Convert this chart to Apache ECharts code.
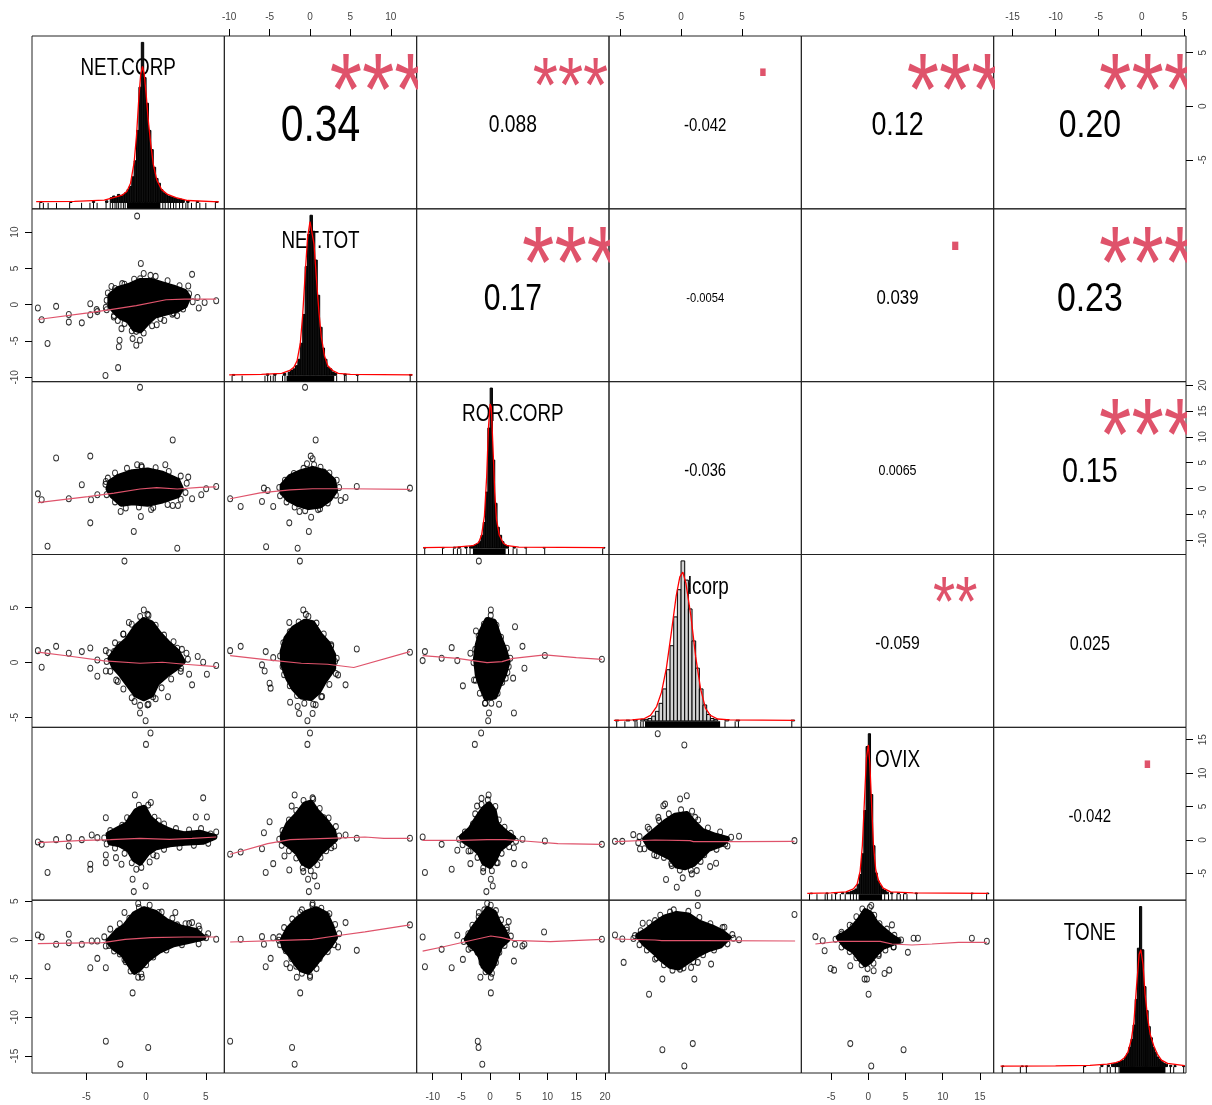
<!DOCTYPE html>
<html><head><meta charset="utf-8">
<script src="https://cdn.jsdelivr.net/npm/echarts@6/dist/echarts.min.js"></script>
<style>html,body{margin:0;padding:0;background:#fff}#c{width:1212px;height:1105px}</style>
</head><body><div id="c"></div>
<script>
// ---------------- DATA ----------------
const varNames = ['NET.CORP','NET.TOT','ROR.CORP','dcorp','OVIX','TONE'];
const axisMin = [-9.55,-10.6,-12.8,-5.9,-9.0,-17.2];
const axisMax = [6.55,13.2,20.7,9.85,16.85,5.15];

const ticksNETCORP = [-5,0,5];
const ticksNETTOT = [-10,-5,0,5,10];
const ticksRORCORP = [-10,-5,0,5,10,15,20];
const ticksDCORP = [-5,0,5];
const ticksOVIX = [-5,0,5,10,15];
const ticksTONE = [-15,-10,-5,0,5];

const corRow = [0,0,0,0,0,1,1,1,1,2,2,2,3,3,4];
const corCol = [1,2,3,4,5,2,3,4,5,3,4,5,4,5,5];
const corText = ['0.34','0.088','-0.042','0.12','0.20','0.17','-0.0054','0.039','0.23','-0.036','0.0065','0.15','-0.059','0.025','-0.042'];
const corStars = ['***','***','.','***','***','***','','.','***','','','***','**','','.'];

// histogram bins [left edge, relative height]
const binWidths = [0.2,0.3,0.4,0.3,0.3,0.25];
const histNETCORP = [[-8.9,0.006],[-6.4,0.006],[-4.5,0.006],[-3.4,0.01],[-3.0,0.03],[-2.8,0.04],[-2.6,0.03],[-2.4,0.05],[-2.2,0.04],[-2.0,0.05],[-1.8,0.06],[-1.6,0.08],[-1.4,0.10],[-1.2,0.16],[-1.0,0.26],[-0.8,0.45],[-0.6,0.72],[-0.4,1.0],[-0.2,0.78],[0.0,0.62],[0.2,0.45],[0.4,0.33],[0.6,0.22],[0.8,0.15],[1.0,0.12],[1.2,0.08],[1.4,0.06],[1.6,0.05],[1.8,0.04],[2.0,0.035],[2.2,0.03],[2.4,0.025],[2.6,0.02],[2.8,0.02],[3.0,0.015],[3.4,0.01],[4.2,0.006],[5.8,0.006]];
const histNETTOT = [[-9.6,0.005],[-5.4,0.008],[-4.5,0.008],[-3.3,0.012],[-2.7,0.02],[-2.4,0.03],[-2.1,0.04],[-1.8,0.06],[-1.5,0.10],[-1.2,0.20],[-0.9,0.38],[-0.6,0.68],[-0.3,0.88],[0.0,1.0],[0.3,0.90],[0.6,0.72],[0.9,0.50],[1.2,0.30],[1.5,0.17],[1.8,0.10],[2.1,0.05],[2.4,0.04],[2.7,0.02],[3.0,0.012],[4.2,0.008],[5.7,0.005],[12.3,0.005]];
const histRORCORP = [[-11.6,0.004],[-8.4,0.004],[-6.4,0.006],[-5.6,0.006],[-4.4,0.008],[-3.6,0.01],[-3.2,0.015],[-2.8,0.02],[-2.4,0.025],[-2.0,0.04],[-1.6,0.08],[-1.2,0.16],[-0.8,0.35],[-0.4,0.75],[0.0,1.0],[0.4,0.55],[0.8,0.28],[1.2,0.13],[1.6,0.08],[2.0,0.04],[2.4,0.02],[2.8,0.015],[4.0,0.006],[6.0,0.004],[9.2,0.004],[19.6,0.004]];
const histDCORP = [[-5.4,0.005],[-4.5,0.005],[-3.9,0.008],[-3.3,0.01],[-3.0,0.01],[-2.7,0.015],[-2.4,0.03],[-2.1,0.06],[-1.8,0.11],[-1.5,0.2],[-1.2,0.32],[-0.9,0.47],[-0.6,0.65],[-0.3,0.82],[0.0,1.0],[0.3,0.88],[0.6,0.70],[0.9,0.5],[1.2,0.33],[1.5,0.2],[1.8,0.1],[2.1,0.04],[2.4,0.015],[2.7,0.01],[3.6,0.008],[4.5,0.005],[9.0,0.005]];
const histOVIX = [[-7.8,0.004],[-5.7,0.005],[-4.5,0.006],[-3.6,0.008],[-3.0,0.01],[-2.7,0.01],[-2.4,0.015],[-2.1,0.02],[-1.8,0.03],[-1.5,0.06],[-1.2,0.12],[-0.9,0.25],[-0.6,0.52],[-0.3,0.92],[0.0,1.0],[0.3,0.62],[0.6,0.3],[0.9,0.13],[1.2,0.08],[1.5,0.05],[1.8,0.03],[2.1,0.02],[2.4,0.01],[3.0,0.008],[3.9,0.006],[4.8,0.006],[6.3,0.005],[13.8,0.004],[15.9,0.004]];
const histTONE = [[-16.25,0.004],[-14.0,0.004],[-13.5,0.004],[-6.75,0.005],[-4.75,0.01],[-4.0,0.01],[-3.5,0.015],[-3.25,0.02],[-3.0,0.02],[-2.75,0.03],[-2.5,0.035],[-2.25,0.04],[-2.0,0.06],[-1.75,0.08],[-1.5,0.12],[-1.25,0.17],[-1.0,0.26],[-0.75,0.42],[-0.5,0.74],[-0.25,1.0],[0.0,0.73],[0.25,0.5],[0.5,0.35],[0.75,0.25],[1.0,0.18],[1.25,0.12],[1.5,0.09],[1.75,0.06],[2.0,0.045],[2.25,0.03],[2.5,0.02],[2.75,0.015],[3.25,0.008],[3.75,0.006],[4.75,0.005]];

// density curves [x, relative height]
const densNETCORP = [[-9.2,0.005],[-6,0.006],[-3.5,0.015],[-2.5,0.035],[-2,0.045],[-1.6,0.07],[-1.3,0.12],[-1.0,0.25],[-0.8,0.42],[-0.6,0.66],[-0.45,0.8],[-0.3,0.85],[-0.15,0.8],[0,0.68],[0.2,0.5],[0.4,0.36],[0.6,0.24],[0.9,0.14],[1.3,0.08],[1.8,0.05],[2.5,0.03],[3.5,0.012],[6.1,0.004]];
const densNETTOT = [[-10,0.003],[-6,0.005],[-3.5,0.012],[-2.5,0.03],[-2,0.05],[-1.6,0.09],[-1.2,0.2],[-0.9,0.38],[-0.6,0.63],[-0.3,0.86],[0,0.96],[0.2,0.96],[0.5,0.82],[0.8,0.6],[1.1,0.4],[1.4,0.24],[1.8,0.12],[2.2,0.06],[2.8,0.03],[3.5,0.012],[5,0.006],[12.7,0.003]];
const densRORCORP = [[-11.7,0.003],[-6,0.006],[-3,0.015],[-2,0.035],[-1.5,0.08],[-1,0.2],[-0.6,0.45],[-0.3,0.75],[0,0.9],[0.2,0.88],[0.5,0.62],[0.8,0.35],[1.1,0.18],[1.6,0.08],[2.3,0.03],[3,0.015],[5,0.006],[19.9,0.003]];
const densDCORP = [[-5.5,0.003],[-4,0.006],[-3,0.015],[-2.5,0.035],[-2,0.09],[-1.6,0.18],[-1.2,0.33],[-0.8,0.55],[-0.4,0.78],[-0.1,0.9],[0.15,0.93],[0.4,0.86],[0.8,0.66],[1.2,0.4],[1.6,0.2],[2,0.08],[2.4,0.035],[3,0.012],[4,0.006],[9.3,0.003]];
const densOVIX = [[-8.2,0.003],[-5,0.006],[-3,0.012],[-2,0.03],[-1.5,0.06],[-1.1,0.14],[-0.8,0.3],[-0.5,0.6],[-0.25,0.85],[0,0.93],[0.2,0.82],[0.45,0.55],[0.7,0.3],[1.0,0.15],[1.4,0.08],[2,0.035],[3,0.012],[6,0.005],[16.1,0.003]];
const densTONE = [[-16.4,0.003],[-10,0.004],[-6,0.008],[-4,0.015],[-3,0.025],[-2.5,0.035],[-2,0.055],[-1.6,0.09],[-1.2,0.17],[-0.9,0.28],[-0.6,0.5],[-0.3,0.7],[-0.1,0.73],[0.15,0.64],[0.4,0.45],[0.7,0.3],[1.0,0.2],[1.4,0.13],[1.8,0.08],[2.3,0.04],[3,0.02],[5,0.006]];

// rug values and dense rug bands [lo, hi]
const rugNETCORP = [-8.9,-8.6,-8.2,-7.5,-6.4,-5.4,-4.7,-4.4,-4.1,-3.35,-3.0,-2.8,-2.6,-2.45,-2.3,-2.1,-1.9,-1.75,1.4,1.6,1.85,2.05,2.3,2.5,2.8,3.06,3.33,3.5,3.8,4.2,4.5,5.0,5.8];
const rugBandNETCORP = [-1.6,1.2];
const rugNETTOT = [-9.64,-8.4,-5.57,-5.24,-4.87,-4.55,-4.3,-3.4,-3.1,3.3,4.26,4.47,5.9,12.4];
const rugBandNETTOT = [-2.9,3.0];
const rugRORCORP = [-11.4,-8.3,-6.4,-5.7,-5.1,-4.1,-3.5,3.2,4.0,4.66,6.28,9.5,19.6];
const rugBandRORCORP = [-3.0,2.7];
const rugDCORP = [-5.27,-4.6,-3.77,-3.6,-3.3,-3.1,3.6,4.43,4.7,9.07];
const rugBandDCORP = [-2.95,3.2];
const rugOVIX = [-7.9,-6.9,-5.8,-5.5,-4.9,-4.4,-3.76,-3.1,-2.4,-2.0,-1.6,2.2,2.72,3.18,3.85,4.3,4.74,5.2,6.5,13.9,15.9];
const rugBandOVIX = [-1.3,1.85];
const rugTONE = [-16.2,-14.1,-13.4,-6.75,-4.83,-4.0,-3.65,-3.06,-2.63,3.34,3.72,4.88];
const rugBandTONE = [-2.56,2.76];

// scatter cells: pts_ROW_COL = [x (column variable), y (row variable)]
const pts_1_0 = [[-0.75,12.2],[-0.44,5.67],[3.85,4.18],[3.53,2.58],[0.37,4.04],[-1.81,2.82],[-0.5,3.58],[-9.06,-0.45],[-8.74,-2.08],[-7.53,-0.23],[-6.47,-1.36],[-6.47,-2.4],[-5.38,-2.5],[-4.67,0.14],[-4.67,-1.4],[-4.14,-0.68],[-3.37,-0.37],[-8.25,-5.35],[-3.4,-9.76],[-2.34,-8.67],[-2.28,-5.8],[-2.22,-4.9],[-2.06,-3.3],[-1.13,-4.67],[-0.82,-5.58],[-0.51,-4.9],[-0.82,-3.67],[0.89,-2.76],[1.52,-2.18],[2.6,-1.5],[2.3,-1.13],[3.2,1.59],[4.3,0.99],[4.41,-0.45],[4.9,0.31],[5.87,0.54],[-2.6,2.22],[-2.68,-1.5],[-2.37,-2.18],[-4.08,-0.95],
  [-3.3,0.6],[-3.2,1.6],[-2.9,2.5],[-2.0,2.9],[-1.0,3.5],[-0.2,4.3],[0.8,3.9],[1.8,3.3],[2.8,2.6],[3.6,1.5],[3.9,0.4],[3.1,-0.6],[2.2,-1.3],[1.2,-1.9],[0.5,-2.9],[-0.2,-3.9],[-1.2,-3.6],[-1.8,-2.6],[-2.7,-1.7],[-3.3,-0.7]];
const core_1_0 = [[-2.99,1.22],[-2.37,2.13],[-1.44,2.58],[-0.51,3.27],[0.43,3.27],[1.36,2.81],[2.29,2.36],[3.23,1.77],[3.53,1.0],[3.23,-0.14],[2.61,-0.68],[1.98,-0.95],[0.74,-1.5],[0.12,-2.4],[-0.51,-3.54],[-0.97,-3.31],[-1.44,-2.18],[-2.06,-1.72],[-2.52,-1.04],[-2.99,-0.14]];
const smooth_1_0 = [[-9.06,-2.04],[-4.86,-1.13],[-2.99,-0.68],[-0.82,-0.14],[1.67,0.68],[3.23,0.77],[5.87,0.77]];

const pts_2_0 = [[-0.51,19.6],[2.23,9.38],[-7.53,5.89],[-4.67,6.27],[-5.38,0.71],[-9.06,-1.04],[-8.74,-2.2],[-6.47,-2.0],[-4.67,-6.67],[-8.25,-11.2],[2.61,-11.6],[-1.03,-8.35],[-0.44,-5.44],[-4.08,-1.22],[-4.61,-2.2],[-3.37,1.36],[-2.13,-4.47],[0.42,-4.08],[2.23,-3.3],[2.67,-3.3],[3.53,2.2],[3.85,-2.0],[4.62,-1.22],[5.03,-0.06],[5.87,0.39],[1.61,4.6],[-0.75,4.6],[-2.37,1.88],[-0.35,4.14],
  [-3.4,0.8],[-3.2,2.0],[-2.6,3.0],[-1.6,3.9],[-0.4,4.4],[0.8,4.0],[1.9,3.3],[2.9,2.4],[3.4,1.0],[3.3,-0.8],[2.9,-2.1],[1.8,-3.1],[0.6,-3.7],[-0.6,-3.6],[-1.7,-3.8],[-2.6,-2.6],[-3.3,-1.2]];
const core_2_0 = [[-2.99,1.23],[-2.37,2.2],[-1.13,3.17],[0.12,3.5],[1.36,2.85],[2.61,1.55],[2.92,-0.06],[2.61,-1.36],[1.36,-2.33],[0.12,-2.97],[-1.13,-2.66],[-2.06,-2.97],[-2.83,-1.36],[-3.15,-0.06]];
const smooth_2_0 = [[-9.06,-2.75],[-4.86,-1.6],[-2.68,-0.9],[-0.51,-0.1],[0.89,0.15],[2.61,-0.1],[4.5,0.2],[5.87,0.3]];

const pts_2_1 = [[-0.61,19.6],[0.7,9.38],[0.09,6.27],[-9.88,-2.0],[-8.58,-3.5],[-5.94,-2.52],[-5.7,0.06],[-4.55,-3.5],[-2.56,-6.67],[-5.43,-11.3],[-1.53,-11.6],[-0.14,-8.35],[0.14,-5.57],[4.4,-1.75],[3.8,-2.33],[5.79,0.39],[12.37,0.06],[1.71,3.17],[2.17,1.88],[-1.3,-4.47],[1.24,-3.94],[0.32,5.77],[-0.37,4.8],[-3.39,-0.72],[-5.24,-0.39],
  [-3.8,0.2],[-3.1,1.6],[-2.0,2.9],[-0.8,3.9],[0.5,4.6],[1.3,4.1],[2.4,3.0],[3.3,1.6],[3.6,0.2],[3.2,-1.3],[2.2,-2.8],[1.0,-4.1],[-0.6,-4.3],[-1.9,-3.6],[-2.9,-2.6],[-3.7,-1.4]];
const core_2_1 = [[-3.39,0.58],[-2.46,2.2],[-1.07,3.17],[0.32,3.82],[1.71,3.17],[2.87,1.55],[3.1,-0.39],[2.41,-2.0],[1.24,-3.3],[-0.14,-3.62],[-1.53,-2.97],[-2.7,-2.0],[-3.39,-0.72]];
const smooth_2_1 = [[-9.88,-2.0],[-6.17,-0.84],[-2.46,-0.26],[0.32,-0.06],[4.5,-0.06],[12.37,-0.19]];

const pts_3_0 = [[-1.81,9.25],[-0.19,4.79],[0.12,4.39],[-1.44,3.66],[-1.91,2.58],[-9.06,1.09],[-8.74,-0.42],[-8.25,0.91],[-7.53,1.48],[-6.47,0.85],[-5.38,1.0],[-4.67,1.33],[-4.67,-0.52],[-4.08,0.24],[-4.08,-1.24],[-3.37,1.09],[-3.37,-0.76],[-0.97,-3.55],[-0.51,-4.6],[-0.04,-5.3],[0.12,-3.85],[0.58,-3.12],[1.83,-3.12],[2.92,-0.52],[3.6,-1.06],[3.85,-2.03],[4.32,0.55],[4.78,0.03],[5.09,-1.06],[5.87,-0.27],[2.61,1.3],[-2.37,-1.73],[-2.22,1.61],[-2.68,1.0],[3.38,0.85],
  [-3.3,0.1],[-3.1,0.9],[-2.6,1.8],[-1.9,2.6],[-1.2,3.5],[-0.5,4.2],[0.2,4.3],[0.8,3.4],[1.5,2.5],[2.3,1.9],[3.0,1.2],[3.5,0.3],[2.9,-0.8],[2.1,-1.5],[1.3,-2.3],[0.8,-3.3],[0.2,-3.8],[-0.5,-3.9],[-1.2,-3.2],[-1.9,-2.4],[-2.5,-1.6],[-3.0,-0.8]];
const core_3_0 = [[-2.99,0.39],[-2.37,1.3],[-1.59,2.06],[-0.82,3.27],[-0.19,3.88],[0.43,3.58],[1.05,2.67],[1.83,1.76],[2.61,1.0],[3.08,0.09],[2.45,-0.52],[1.68,-1.12],[0.89,-1.88],[0.43,-2.94],[-0.19,-3.24],[-0.82,-2.94],[-1.44,-2.03],[-2.06,-1.12],[-2.68,-0.36]];
const smooth_3_0 = [[-9.06,0.95],[-6.5,0.6],[-3.5,0.15],[-0.51,-0.06],[1.36,0.03],[3.23,-0.15],[5.87,-0.36]];

const pts_3_1 = [[-1.25,9.25],[-0.83,4.79],[-0.51,4.39],[-2.56,3.66],[-9.88,1.09],[-8.58,1.48],[-5.48,1.0],[-5.94,-0.21],[-5.61,-0.76],[-5.0,-1.88],[-4.87,-2.33],[-4.55,0.45],[-3.39,-0.36],[-2.46,-3.61],[-1.35,-4.64],[-0.32,-5.3],[0.32,-4.64],[0.7,-3.85],[1.39,-3.12],[4.4,-2.03],[5.79,1.24],[12.37,0.94],[3.47,-1.12],[3.1,0.09],[2.63,1.61],[2.17,1.0],[-1.53,-4.0],
  [-3.7,0.6],[-3.3,1.8],[-2.5,2.8],[-1.4,3.7],[-0.2,4.2],[0.8,3.6],[1.7,2.6],[2.6,1.5],[3.3,0.4],[3.2,-1.0],[2.4,-2.0],[1.5,-3.1],[0.4,-3.8],[-0.7,-3.7],[-1.6,-3.0],[-2.5,-2.1],[-3.2,-1.1]];
const core_3_1 = [[-3.39,1.0],[-2.92,2.21],[-2.0,3.12],[-0.61,3.73],[0.32,3.58],[1.24,2.52],[2.17,1.76],[2.87,0.7],[2.87,-0.52],[1.71,-1.73],[1.02,-2.64],[0.09,-3.24],[-1.07,-3.09],[-2.0,-2.33],[-2.7,-1.42],[-3.3,-0.21]];
const smooth_3_1 = [[-9.88,0.64],[-5.24,0.24],[-1.07,-0.06],[2.17,-0.15],[5.42,-0.45],[12.37,1.0]];

const pts_3_2 = [[-1.97,9.25],[0.12,4.79],[-2.47,2.88],[4.33,3.27],[5.63,1.48],[-6.7,1.36],[-11.36,1.0],[-11.76,0.18],[-8.45,0.39],[-5.72,0.18],[-4.75,-2.12],[-2.8,-1.58],[-0.85,-3.7],[-0.21,-4.6],[-0.35,-5.3],[1.55,-3.79],[4.14,-4.6],[4.0,-1.42],[5.97,-0.52],[3.23,-0.36],[9.53,0.64],[19.46,0.3],[2.71,-1.42],[2.07,1.0],[-3.44,0.85],
  [-2.9,0.0],[-2.6,1.2],[-2.0,2.4],[-1.1,3.5],[0.1,4.3],[1.1,3.4],[1.9,2.3],[2.9,1.3],[3.5,0.4],[3.0,-0.9],[2.1,-1.8],[1.3,-2.8],[0.2,-3.7],[-0.9,-3.7],[-1.8,-2.8],[-2.5,-1.6]];
const core_3_2 = [[-2.47,0.39],[-2.16,1.61],[-1.5,2.82],[-0.52,3.88],[0.64,3.73],[1.41,2.52],[2.38,1.3],[3.04,0.09],[2.38,-1.12],[1.55,-2.03],[0.77,-3.09],[-0.66,-3.24],[-1.5,-2.18],[-2.16,-1.12]];
const smooth_3_2 = [[-11.76,0.64],[-5.72,0.39],[-0.54,0.0],[2.07,0.09],[4.0,0.39],[9.53,0.7],[15.0,0.45],[19.46,0.3]];

const pts_4_0 = [[0.37,16.0],[-0.01,14.3],[-0.94,6.72],[4.78,6.3],[4.16,3.43],[5.09,3.43],[5.87,1.19],[-9.06,-0.3],[-8.74,-0.65],[-8.25,-4.87],[-7.53,0.05],[-6.47,0.35],[-6.47,-0.9],[-5.38,0.05],[-4.67,-3.63],[-4.67,-4.38],[-4.55,0.75],[-4.08,0.35],[-3.37,3.33],[-3.37,-2.24],[-3.37,-3.39],[-2.52,-2.64],[-2.06,-3.63],[-1.13,-5.87],[-1.03,-7.72],[-0.04,-6.87],[-0.82,-4.38],[-0.51,4.58],[0.18,5.22],[-1.59,3.33],[1.05,2.84],[1.98,1.34],[0.89,-2.39],[3.85,0.85],
  [-3.5,0.3],[-3.0,1.4],[-2.0,2.2],[-1.3,3.2],[-0.6,5.2],[0.4,5.6],[0.7,3.4],[1.5,2.4],[2.5,1.7],[3.6,1.5],[4.6,1.7],[5.4,0.9],[5.2,-0.5],[4.0,-0.8],[2.8,-1.1],[1.5,-1.4],[0.6,-2.2],[0.3,-3.3],[-0.4,-4.1],[-1.2,-3.4],[-1.8,-2.0],[-2.6,-1.2],[-3.3,-0.6]];
const core_4_0 = [[-3.15,0.85],[-2.37,1.6],[-1.59,2.34],[-0.82,4.33],[-0.19,4.82],[0.27,3.33],[0.89,2.34],[1.98,1.34],[3.23,0.85],[4.47,1.09],[5.72,0.45],[4.78,-0.25],[3.23,-0.4],[1.98,-0.64],[0.74,-1.15],[0.12,-1.9],[-0.51,-3.39],[-0.97,-2.88],[-1.44,-1.39],[-2.22,-0.64],[-2.99,-0.4]];
const smooth_4_0 = [[-9.06,-0.4],[-5.17,-0.05],[-2.99,0.05],[-0.51,0.25],[1.98,0.1],[3.85,0.25],[5.87,0.45]];

const pts_4_1 = [[0.0,16.0],[-0.32,14.3],[-1.9,6.72],[0.32,6.3],[-2.27,5.07],[-5.0,2.73],[-5.7,1.09],[-9.88,-2.13],[-8.58,-1.79],[-5.94,-1.3],[-5.48,-4.87],[-4.55,-3.54],[-2.56,-4.48],[-3.16,-2.39],[-0.83,-4.73],[-0.24,-5.87],[-0.14,-7.72],[0.88,-6.87],[0.55,-5.37],[1.71,3.33],[2.63,0.85],[4.4,0.75],[5.79,0.25],[12.37,0.25],[2.63,-1.15],[-1.53,1.34],
  [-3.8,0.1],[-3.4,1.4],[-2.6,3.0],[-1.7,4.4],[-0.8,5.9],[0.4,6.1],[1.2,4.7],[2.3,3.3],[3.2,2.0],[3.6,0.6],[3.0,-0.9],[2.0,-1.6],[1.3,-2.6],[0.9,-3.7],[0.1,-4.6],[-0.9,-4.2],[-1.7,-2.7],[-2.6,-1.6],[-3.5,-0.8]];
const core_4_1 = [[-3.39,0.6],[-2.7,2.34],[-1.53,3.84],[-0.61,5.33],[0.09,5.57],[0.78,4.33],[1.94,2.84],[2.87,1.34],[3.1,0.1],[2.17,-0.9],[1.24,-1.9],[0.55,-3.13],[-0.14,-3.88],[-0.83,-3.39],[-1.53,-1.9],[-2.46,-0.9],[-3.3,-0.15]];
const smooth_4_1 = [[-9.88,-2.13],[-5.24,-0.55],[-2.46,0.05],[2.17,0.25],[6.8,0.45],[9.13,0.25],[12.37,0.25]];

const pts_4_2 = [[-1.57,16.0],[-2.67,14.3],[-0.27,6.72],[-1.51,6.22],[-2.28,5.07],[-11.36,-4.87],[-11.76,0.45],[-8.45,-0.65],[-6.7,-4.38],[-5.72,-1.54],[-4.75,0.45],[-3.44,-3.54],[-1.22,-4.73],[-0.66,-7.72],[0.45,-6.87],[0.12,-5.87],[1.1,-3.39],[4.14,-3.54],[5.97,-3.73],[4.14,-1.15],[5.63,0.1],[9.53,-0.15],[19.46,-0.65],[2.71,0.85],[-3.77,-1.64],
  [-5.4,0.1],[-4.4,1.2],[-3.0,2.4],[-2.6,3.9],[-1.5,5.3],[-0.4,6.0],[0.9,5.0],[1.5,3.0],[2.5,1.9],[3.6,1.0],[4.5,-0.2],[3.3,-1.0],[2.0,-2.0],[1.3,-3.4],[0.3,-4.6],[-1.2,-4.2],[-2.2,-2.6],[-3.4,-1.6],[-4.8,-0.7]];
const core_4_2 = [[-4.94,0.45],[-3.44,1.6],[-2.16,3.33],[-1.18,4.58],[-0.21,5.33],[0.64,4.33],[1.1,2.34],[2.71,1.09],[4.0,0.35],[3.04,-0.4],[1.55,-1.39],[0.77,-2.88],[-0.02,-3.88],[-1.04,-3.39],[-1.83,-1.9],[-3.13,-0.9],[-4.42,-0.15]];
const smooth_4_2 = [[-11.76,-0.05],[-5.08,-0.05],[-0.54,0.05],[2.71,0.05],[5.97,-0.15],[11.81,-0.55],[19.46,-0.65]];

const pts_4_3 = [[-1.91,15.9],[0.27,14.2],[0.47,6.62],[-0.08,6.12],[-1.31,5.37],[-1.45,5.12],[-1.86,3.38],[-2.73,1.9],[-5.41,-0.2],[-4.81,-0.2],[-3.91,0.8],[-3.36,-1.34],[4.75,0.55],[9.29,-0.1],[-1.23,-5.92],[-0.35,-7.06],[0.14,-5.67],[1.37,-7.96],[0.88,-5.07],[1.29,-4.58],[2.38,-3.98],[2.87,-3.48],[3.61,-0.6],[1.15,3.38],[-1.99,-2.34],[-0.76,-3.83],[0.39,-3.83],
  [-3.4,0.5],[-2.6,1.6],[-1.8,2.9],[-1.0,3.9],[0.0,4.5],[0.9,4.3],[1.4,3.0],[2.2,1.8],[3.2,1.2],[4.1,0.4],[3.8,-0.9],[2.9,-1.4],[1.9,-2.2],[1.6,-3.2],[0.8,-4.5],[-0.1,-4.5],[-0.8,-3.5],[-1.4,-2.6],[-2.2,-2.2],[-3.0,-1.3],[-3.5,-0.4]];
const core_4_3 = [[-2.95,0.15],[-2.13,1.39],[-1.31,2.64],[-0.49,3.63],[0.47,3.88],[1.01,2.64],[1.7,1.39],[2.79,0.64],[3.75,0.15],[3.34,-0.6],[2.24,-1.34],[1.56,-2.58],[1.01,-3.58],[0.33,-4.07],[-0.35,-3.83],[-0.9,-2.58],[-1.72,-1.84],[-2.54,-1.09]];
const smooth_4_3 = [[-5.41,-0.25],[-2.13,0.0],[0.74,-0.1],[1.01,-0.25],[4.7,-0.25],[9.29,-0.2]];

const pts_5_0 = [[-0.66,4.72],[-1.81,3.55],[2.45,3.55],[-9.06,0.65],[-8.74,0.39],[-8.25,-3.46],[-7.53,-0.56],[-6.47,0.74],[-6.47,-0.35],[-5.38,-0.56],[-4.67,-3.59],[-4.55,-0.13],[-4.08,-0.13],[-4.08,-2.38],[-3.37,-0.78],[-3.37,-3.59],[-1.13,-6.84],[-0.66,-4.81],[-0.35,-4.81],[-3.37,-13.1],[0.18,-13.9],[-2.15,-16.06],[3.85,2.25],[3.6,2.12],[2.61,1.95],[4.47,1.39],[5.87,0.09],[5.03,0.3],[-2.37,1.17],[-2.68,-1.43],[-1.81,-2.51],[1.05,3.55],
  [-3.5,0.4],[-3.0,1.4],[-2.2,2.1],[-1.4,2.8],[-0.6,4.2],[0.3,4.5],[1.3,3.6],[2.2,2.8],[3.3,2.1],[4.4,1.8],[5.2,0.8],[4.4,-0.5],[3.0,-0.6],[1.7,-1.3],[0.6,-2.2],[0.0,-3.2],[-0.4,-4.4],[-1.3,-4.0],[-1.7,-2.8],[-2.2,-1.8],[-3.1,-0.7]];
const core_5_0 = [[-3.15,-0.13],[-2.52,0.95],[-1.75,1.82],[-0.97,3.34],[-0.19,3.99],[0.74,3.55],[1.68,2.47],[2.92,1.6],[4.16,1.17],[4.78,0.3],[3.53,-0.13],[2.29,-0.56],[1.05,-1.43],[0.12,-2.51],[-0.51,-3.59],[-0.97,-4.11],[-1.37,-3.16],[-1.91,-1.86],[-2.68,-1.0]];
const smooth_5_0 = [[-9.06,-0.48],[-3.62,-0.35],[-1.75,0.09],[0.43,0.3],[3.23,0.39],[5.87,0.39]];

const pts_5_1 = [[0.32,4.72],[-1.21,3.55],[-9.88,-13.1],[-2.22,-13.9],[-1.9,-16.06],[-1.21,-6.84],[-1.63,-4.81],[0.0,-4.81],[-8.58,0.09],[-5.94,0.43],[-5.7,-0.56],[-5.48,-3.46],[-4.87,-2.38],[-4.55,0.3],[-2.92,-3.08],[-2.46,-3.59],[2.17,3.12],[4.4,2.25],[3.47,-0.91],[5.79,-1.34],[12.37,1.95],[-3.85,-0.04],[2.63,0.74],
  [-3.8,0.4],[-3.2,1.6],[-2.2,2.7],[-1.0,3.9],[0.3,4.5],[1.4,4.1],[2.4,3.4],[3.1,2.0],[3.6,0.8],[3.0,-0.6],[2.2,-1.5],[1.2,-2.4],[0.8,-3.7],[0.0,-4.6],[-1.0,-4.3],[-1.7,-3.4],[-2.3,-2.4],[-3.0,-1.4],[-3.7,-0.6]];
const core_5_1 = [[-3.39,-0.04],[-2.7,1.39],[-1.53,2.69],[-0.37,3.55],[0.78,3.99],[1.94,3.34],[2.63,1.82],[3.1,0.3],[2.41,-0.78],[1.48,-1.86],[0.55,-3.16],[-0.24,-4.11],[-1.07,-3.81],[-1.76,-2.95],[-2.46,-1.86],[-3.16,-1.0]];
const smooth_5_1 = [[-9.88,-0.26],[-3.39,-0.04],[0.32,0.09],[3.1,0.52],[6.8,1.04],[12.37,1.95]];

const pts_5_2 = [[-0.52,4.72],[-1.97,3.55],[3.23,2.38],[9.39,1.04],[19.46,0.09],[-11.76,0.39],[-11.36,-3.46],[-8.45,-1.21],[-6.7,-3.59],[-5.72,0.61],[-4.75,-2.51],[-3.77,-1.21],[-2.16,-13.1],[-2.02,-13.9],[-1.37,-16.06],[0.12,-6.84],[-1.7,-4.81],[0.12,-4.81],[4.14,-2.73],[4.33,-0.56],[5.63,-0.78],[5.97,-0.56],[2.9,1.26],[2.38,0.3],
  [-4.6,-0.2],[-3.8,0.8],[-3.1,1.9],[-2.0,3.0],[-1.0,3.9],[0.1,4.5],[1.0,3.8],[1.9,2.6],[2.9,1.6],[3.6,0.5],[2.5,-0.7],[1.6,-1.6],[1.0,-2.9],[0.3,-4.3],[-0.8,-4.1],[-1.5,-2.9],[-2.2,-1.6],[-3.3,-1.0]];
const core_5_2 = [[-4.1,0.09],[-2.8,1.6],[-1.5,2.9],[-0.4,3.99],[0.64,3.55],[1.41,2.25],[2.38,1.17],[3.04,0.09],[1.74,-0.78],[1.1,-2.08],[0.45,-3.38],[-0.21,-4.11],[-1.18,-3.38],[-1.7,-2.08],[-2.47,-1.21],[-3.44,-0.56]];
const smooth_5_2 = [[-11.76,-1.43],[-8.31,-0.91],[-3.77,-0.13],[0.12,0.52],[2.07,0.3],[4.0,-0.04],[10.5,-0.22],[19.46,0.09]];

const pts_5_3 = [[1.37,4.46],[9.29,3.29],[-5.41,0.65],[-4.81,0.13],[-4.7,-2.9],[-3.14,2.17],[-1.53,-5.06],[-2.62,-7.01],[-1.53,-14.2],[0.96,-13.4],[0.27,-16.3],[1.09,-5.06],[1.37,-2.9],[2.46,-3.12],[3.55,1.65],[4.29,0.22],[4.75,0.04],[-0.9,3.6],[-2.13,2.51],[-0.08,-3.77],[-2.13,-2.47],[-3.77,0.56],[0.82,-3.55],
  [-3.9,0.2],[-3.3,1.2],[-2.6,2.2],[-1.7,3.2],[-0.6,3.9],[0.6,3.7],[1.5,2.9],[2.4,2.1],[3.4,1.6],[4.2,0.7],[3.8,-0.5],[2.7,-1.3],[1.8,-1.9],[1.0,-2.8],[0.2,-3.6],[-0.7,-3.9],[-1.4,-3.2],[-2.0,-2.3],[-2.8,-1.3],[-3.4,-0.6]];
const core_5_3 = [[-3.5,0.56],[-2.81,1.21],[-2.13,2.08],[-1.31,2.94],[-0.35,3.38],[0.6,3.16],[1.42,2.29],[2.51,1.65],[3.34,1.0],[3.88,0.35],[3.2,-0.74],[2.24,-1.17],[1.42,-1.82],[0.6,-2.68],[-0.22,-3.55],[-0.9,-3.33],[-1.58,-2.47],[-2.13,-1.6],[-2.95,-0.52]];
const smooth_5_3 = [[-5.41,0.13],[-2.13,0.0],[-1.58,-0.09],[1.97,-0.09],[9.34,-0.13]];

const pts_5_4 = [[0.4,4.46],[3.18,1.95],[-7.11,0.43],[-6.13,-0.09],[-5.87,-1.39],[-5.06,-3.68],[-4.6,-3.9],[-2.42,-3.34],[-2.1,1.78],[-2.42,-13.4],[0.4,-16.3],[4.74,-14.2],[0.04,-7.01],[-0.5,-5.06],[-0.18,-5.06],[0.72,-3.98],[2.18,-4.33],[2.82,-3.9],[5.32,-1.6],[6.09,0.22],[6.67,0.22],[13.92,0.22],[15.93,-0.17],[4.07,-0.09],[3.4,-0.87],[1.38,-1.82],[-3.53,0.78],
  [-4.4,0.1],[-3.6,1.0],[-2.5,1.9],[-1.6,3.0],[-0.8,4.0],[0.2,4.2],[0.8,3.2],[1.5,2.1],[2.5,1.4],[3.5,0.6],[4.4,0.0],[3.4,-0.9],[2.3,-1.3],[1.4,-2.0],[0.7,-3.0],[-0.1,-3.7],[-0.9,-3.2],[-1.6,-2.3],[-2.5,-1.5],[-3.6,-0.9]];
const core_5_4 = [[-3.98,0.35],[-3.09,0.78],[-1.97,1.65],[-1.07,2.73],[-0.4,3.72],[0.27,3.38],[0.94,2.29],[1.84,1.43],[2.95,0.56],[3.98,-0.09],[2.95,-0.52],[1.84,-0.95],[0.94,-1.82],[0.27,-2.68],[-0.4,-3.12],[-1.07,-2.47],[-1.97,-1.39],[-3.09,-0.74]];
const smooth_5_4 = [[-7.11,-0.52],[-3.98,-0.17],[1.61,-0.17],[3.18,-0.52],[5.87,-0.65],[8.55,-0.52],[12.12,-0.3],[15.93,-0.3]];

// ---------------- BUILD ----------------
const tickSets = [ticksNETCORP, ticksNETTOT, ticksRORCORP, ticksDCORP, ticksOVIX, ticksTONE];
const hists = [histNETCORP, histNETTOT, histRORCORP, histDCORP, histOVIX, histTONE];
const denss = [densNETCORP, densNETTOT, densRORCORP, densDCORP, densOVIX, densTONE];
const rugs = [rugNETCORP, rugNETTOT, rugRORCORP, rugDCORP, rugOVIX, rugTONE];
const rugBands = [rugBandNETCORP, rugBandNETTOT, rugBandRORCORP, rugBandDCORP, rugBandOVIX, rugBandTONE];
const lower = {
  '1_0':[pts_1_0,core_1_0,smooth_1_0], '2_0':[pts_2_0,core_2_0,smooth_2_0], '2_1':[pts_2_1,core_2_1,smooth_2_1],
  '3_0':[pts_3_0,core_3_0,smooth_3_0], '3_1':[pts_3_1,core_3_1,smooth_3_1], '3_2':[pts_3_2,core_3_2,smooth_3_2],
  '4_0':[pts_4_0,core_4_0,smooth_4_0], '4_1':[pts_4_1,core_4_1,smooth_4_1], '4_2':[pts_4_2,core_4_2,smooth_4_2], '4_3':[pts_4_3,core_4_3,smooth_4_3],
  '5_0':[pts_5_0,core_5_0,smooth_5_0], '5_1':[pts_5_1,core_5_1,smooth_5_1], '5_2':[pts_5_2,core_5_2,smooth_5_2], '5_3':[pts_5_3,core_5_3,smooth_5_3], '5_4':[pts_5_4,core_5_4,smooth_5_4]
};

const L0 = 32, T0 = 36, R0 = 1186, B0 = 1073;
const CW = (R0 - L0) / 6, CH = (B0 - T0) / 6;
const FONT = '"Liberation Sans", Arial, sans-serif';
const SX = 0.82; // condensed look of the original rendering
const mctx = document.createElement('canvas').getContext('2d');
mctx.font = '100px ' + FONT;
const em = s => mctx.measureText(s).width / 100 * SX;

const grids = [], xAxes = [], yAxes = [], series = [];
const labelStyle = {fontSize: 10, fontFamily: '"Liberation Sans Narrow", ' + FONT, color: '#444'};

function shownAxis(pos, ticks, rotate, margin) {
  return {
    show: true, position: pos,
    axisLine: {show: false, onZero: false},
    axisTick: {show: true, inside: false, length: 7, lineStyle: {color: '#000', width: 1}, customValues: ticks},
    axisLabel: Object.assign({show: true, customValues: ticks, rotate: rotate, margin: margin}, labelStyle),
    splitLine: {show: false}
  };
}

for (let i = 0; i < 6; i++) {
  for (let j = 0; j < 6; j++) {
    const k = i * 6 + j;
    grids.push({left: L0 + j * CW, top: T0 + i * CH, width: CW, height: CH, show: true,
      borderColor: '#222', borderWidth: 1, backgroundColor: 'transparent', containLabel: false, outerBoundsMode: 'none'});
    const diag = i === j;
    let xa = {type: 'value', gridIndex: k, min: axisMin[j], max: axisMax[j], show: false,
      splitLine: {show: false}, axisLine: {show: false, onZero: false}, axisTick: {show: false}, axisLabel: {show: false}};
    let ya = {type: 'value', gridIndex: k, min: diag ? -0.04 : axisMin[i], max: diag ? 1.04 : axisMax[i], show: false,
      splitLine: {show: false}, axisLine: {show: false, onZero: false}, axisTick: {show: false}, axisLabel: {show: false}};
    if (i === 0 && j % 2 === 1) Object.assign(xa, shownAxis('top', tickSets[j], 0, 14));
    if (i === 5 && j % 2 === 0) Object.assign(xa, shownAxis('bottom', tickSets[j], 0, 19));
    if (j === 0 && i % 2 === 1) Object.assign(ya, shownAxis('left', tickSets[i], 90, 12));
    if (j === 5 && i % 2 === 0) Object.assign(ya, shownAxis('right', tickSets[i], 90, 12));
    xAxes.push(xa); yAxes.push(ya);

    if (diag) {
      const bw = binWidths[i];
      series.push({type: 'custom', xAxisIndex: k, yAxisIndex: k, z: 1, silent: true, data: [[0]],
        renderItem: (p, api) => {
          const cs = p.coordSys;
          return {type: 'text', x: cs.x + cs.width / 2, y: cs.y + 33, scaleX: SX,
            style: {text: varNames[i], font: '23px ' + FONT, fill: '#000', align: 'center', verticalAlign: 'middle'}};
        }});
      series.push({type: 'custom', xAxisIndex: k, yAxisIndex: k, z: 3, silent: true, clip: true,
        data: hists[i],
        renderItem: (p, api) => {
          const x0 = api.value(0), h = api.value(1);
          const a = api.coord([x0, 0]), b = api.coord([x0 + bw, h]);
          const w = b[0] - a[0];
          return {type: 'rect', shape: {x: a[0], y: b[1], width: w, height: a[1] - b[1]},
            style: {fill: w < 3 ? '#111' : '#d3d3d3', stroke: '#000', lineWidth: 1}};
        }});
      series.push({type: 'line', xAxisIndex: k, yAxisIndex: k, z: 4, silent: true, data: denss[i],
        showSymbol: false, symbol: 'none', lineStyle: {color: '#ff0000', width: 1.3}, smooth: false});
      series.push({type: 'custom', xAxisIndex: k, yAxisIndex: k, z: 4, silent: true,
        data: rugs[i].map(v => [v]),
        renderItem: (p, api) => {
          const x = api.coord([api.value(0), 0])[0];
          const yb = p.coordSys.y + p.coordSys.height;
          return {type: 'line', shape: {x1: x, y1: yb, x2: x, y2: yb - 6}, style: {stroke: '#000', lineWidth: 1}};
        }});
      series.push({type: 'custom', xAxisIndex: k, yAxisIndex: k, z: 4, silent: true,
        data: [rugBands[i]],
        renderItem: (p, api) => {
          const a = api.coord([api.value(0), 0])[0], b = api.coord([api.value(1), 0])[0];
          const yb = p.coordSys.y + p.coordSys.height;
          return {type: 'rect', shape: {x: a, y: yb - 6, width: b - a, height: 6}, style: {fill: '#000'}};
        }});
    } else if (i > j) {
      const d = lower[i + '_' + j];
      const core = d[1];
      series.push({type: 'custom', xAxisIndex: k, yAxisIndex: k, z: 3, silent: true, clip: true, data: [[0]],
        renderItem: (p, api) => ({type: 'polygon', shape: {points: core.map(q => api.coord(q))},
          style: {fill: '#000', stroke: '#000', lineWidth: 6, lineJoin: 'round'}})});
      series.push({type: 'scatter', xAxisIndex: k, yAxisIndex: k, z: 3, silent: true, data: d[0],
        symbol: 'circle', symbolSize: [5, 6],
        itemStyle: {color: 'rgba(0,0,0,0)', borderColor: '#000', borderWidth: 1}});
      series.push({type: 'line', xAxisIndex: k, yAxisIndex: k, z: 4, silent: true, data: d[2],
        showSymbol: false, symbol: 'none', lineStyle: {color: '#DF536B', width: 1.2}, smooth: false});
    }
  }
}

for (let n = 0; n < corText.length; n++) {
  const i = corRow[n], j = corCol[n], k = i * 6 + j;
  const r = Math.abs(parseFloat(corText[n]));
  const target = 0.8 * CW * (r + 0.3) / 1.3 * 1.05;
  const fs = target / em(corText[n]);
  const fsStar = fs * 1.3 / (r + 0.3);
  const stars = corStars[n];
  series.push({type: 'custom', xAxisIndex: k, yAxisIndex: k, z: 5, silent: true, clip: true, data: [[0]],
    renderItem: (p, api) => {
      const cs = p.coordSys;
      const kids = [{type: 'text', x: cs.x + 0.5 * cs.width, y: cs.y + 0.5 * cs.height + 0.06 * fs + 2, scaleX: SX,
        style: {text: corText[n], font: fs.toFixed(2) + 'px ' + FONT, fill: '#000', align: 'center', verticalAlign: 'middle'}}];
      if (stars) {
        const Y = cs.y + 0.2 * cs.height;
        const yy = stars === '.' ? Y - 0.195 * fsStar : Y + 0.25 * fsStar;
        kids.push({type: 'text', x: cs.x + 0.8 * cs.width, y: yy, scaleX: SX,
          style: {text: stars, font: fsStar.toFixed(2) + 'px ' + FONT, fill: '#DF536B', align: 'center', verticalAlign: 'middle'}});
      }
      return {type: 'group', children: kids};
    }});
}

const chart = echarts.init(document.getElementById('c'), null, {renderer: 'canvas'});
chart.setOption({backgroundColor: '#fff', animation: false, grid: grids, xAxis: xAxes, yAxis: yAxes, series: series});
</script></body></html>
